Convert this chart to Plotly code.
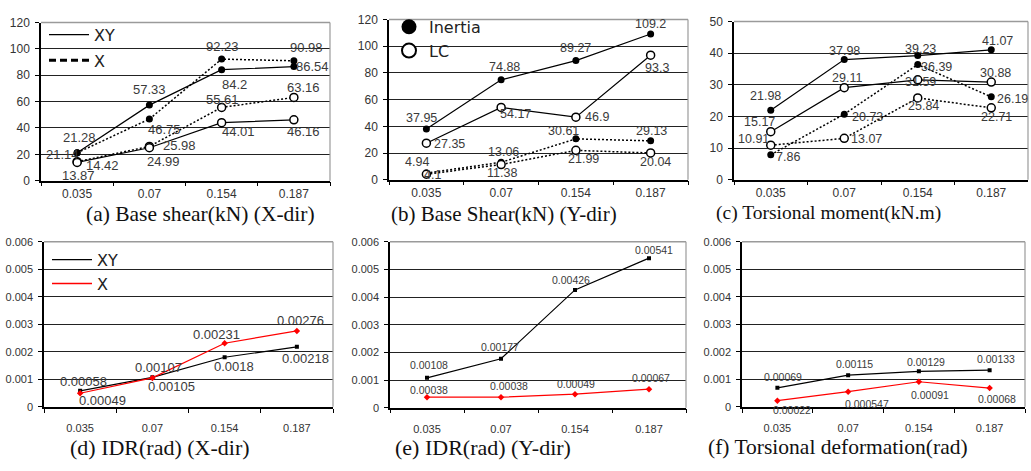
import plotly.graph_objects as go

W, H = 1031, 471

# ---------------- data ----------------
categories = ["0.035", "0.07", "0.154", "0.187"]

# (a) Base shear (kN) X-dir
a_xy_inertia = [21.28, 57.33, 84.2, 86.54]
a_xy_lc = [13.87, 24.99, 44.01, 46.16]
a_x_inertia = [21.14, 46.75, 92.23, 90.98]
a_x_lc = [14.42, 25.98, 55.61, 63.16]

# (b) Base shear (kN) Y-dir
b_xy_inertia = [37.95, 74.88, 89.27, 109.2]
b_xy_lc = [27.35, 54.17, 46.9, 93.3]
b_x_inertia = [4.94, 13.06, 30.61, 29.13]
b_x_lc = [4.1, 11.38, 21.99, 20.04]

# (c) Torsional moment (kN.m)
c_xy_inertia = [21.98, 37.98, 39.23, 41.07]
c_xy_lc = [15.17, 29.11, 31.59, 30.88]
c_x_inertia = [7.86, 20.73, 36.39, 26.19]
c_x_lc = [10.91, 13.07, 25.84, 22.71]

# (d) IDR X-dir, (e) IDR Y-dir, (f) torsional deformation
d_xy = [0.00058, 0.00107, 0.0018, 0.00218]
d_x = [0.00049, 0.00105, 0.00231, 0.00276]
e_xy = [0.00108, 0.00177, 0.00426, 0.00541]
e_x = [0.00038, 0.00038, 0.00049, 0.00067]
f_xy = [0.00069, 0.00115, 0.00129, 0.00133]
f_x = [0.00022, 0.000547, 0.00091, 0.00068]

ticks_shear = [0, 20, 40, 60, 80, 100, 120]
ticks_moment = [0, 10, 20, 30, 40, 50]
ticks_rad = [0, 0.001, 0.002, 0.003, 0.004, 0.005, 0.006]
ticks_rad_text = ["0", "0.001", "0.002", "0.003", "0.004", "0.005", "0.006"]

titles = ["(a) Base shear(kN) (X-dir)", "(b) Base Shear(kN) (Y-dir)",
          "(c) Torsional moment(kN.m)", "(d) IDR(rad) (X-dir)",
          "(e) IDR(rad) (Y-dir)", "(f) Torsional deformation(rad)"]

# ---------------- layout helpers ----------------
def fx(px):
    return px / W

def fy(py):
    return 1 - py / H

# plot area boxes in pixels: (left, right, top, bottom)
boxes = {
    1: (41, 330, 16, 179),
    2: (389, 688, 13, 178),
    3: (734, 1028, 15, 178),
    4: (44, 333, 242, 412),
    5: (390, 686, 242, 413),
    6: (742, 1025, 242, 412),
}

fig = go.Figure()

BLACK = "#000000"
RED = "#ff0000"
LBL = "#3a3a3a"


def ax_names(i):
    return ("x" if i == 1 else f"x{i}"), ("y" if i == 1 else f"y{i}")


def add_line(i, vals, dash, filled, color=BLACK, kind="circle"):
    xr, yr = ax_names(i)
    if kind == "circle":
        if filled:
            marker = dict(symbol="circle", size=7, color=BLACK, line=dict(width=0))
        else:
            marker = dict(symbol="circle", size=8, color="white", line=dict(color=BLACK, width=1.5))
        width = 1.2 if dash == "solid" else 1.5
    elif kind == "square":
        marker = dict(symbol="square", size=4, color=color, line=dict(width=0))
        width = 1.2
    else:
        marker = dict(symbol="diamond", size=5, color=color, line=dict(width=0))
        width = 1.2
    fig.add_trace(go.Scatter(
        x=categories, y=vals, xaxis=xr, yaxis=yr, mode="lines+markers",
        line=dict(color=color, width=width, dash=dash), marker=marker,
        showlegend=False, hoverinfo="skip"))


def add_labels(i, vals, offsets, size):
    xr, yr = ax_names(i)
    for k, (v, (dx, dy)) in enumerate(zip(vals, offsets)):
        # category axis: annotation x given as category index
        fig.add_annotation(x=k, y=v, xref=xr, yref=yr, text=str(v), showarrow=False,
                           xshift=dx, yshift=dy,
                           font=dict(family="Liberation Sans", size=size, color=LBL))


DOT = "2px,2px"

# (a)
add_line(1, a_x_inertia, DOT, True)
add_line(1, a_x_lc, DOT, False)
add_line(1, a_xy_inertia, "solid", True)
add_line(1, a_xy_lc, "solid", False)
add_labels(1, a_xy_inertia, [(2, 15), (0, 16), (13, -15), (19, 0)], 13)
add_labels(1, a_xy_lc, [(1, -13), (14, -14), (17, -9), (10, -12)], 13)
add_labels(1, a_x_inertia, [(-15, -2), (15, -10), (1, 13), (13, 13)], 13)
add_labels(1, a_x_lc, [(25, -4), (30, 1), (1, 8), (10, 10)], 13)

# (b)
add_line(2, b_x_inertia, DOT, True)
add_line(2, b_x_lc, DOT, False)
add_line(2, b_xy_inertia, "solid", True)
add_line(2, b_xy_lc, "solid", False)
add_labels(2, b_xy_inertia, [(-5, 11), (3, 13), (0, 13), (0, 10)], 12.5)
add_labels(2, b_xy_lc, [(23, -1), (14, -7), (21, 0), (6, -13)], 12.5)
add_labels(2, b_x_inertia, [(-9, 11), (2, 10), (-12, 8), (1, 10)], 12.5)
add_labels(2, b_x_lc, [(6, -1), (1, -8), (8, -9), (5, -9)], 12.5)

# (c)
add_line(3, c_x_inertia, DOT, True)
add_line(3, c_x_lc, DOT, False)
add_line(3, c_xy_inertia, "solid", True)
add_line(3, c_xy_lc, "solid", False)
add_labels(3, c_xy_inertia, [(-5, 14), (0, 9), (3, 7), (6, 9)], 12.5)
add_labels(3, c_xy_lc, [(-11, 10), (3, 10), (3, -2), (4, 9)], 12.5)
add_labels(3, c_x_inertia, [(17, -2), (23, -3), (19, -2), (21, -2)], 12.5)
add_labels(3, c_x_lc, [(-17, 6), (22, -1), (6, -8), (5, -9)], 12.5)

# (d)
add_line(4, d_xy, "solid", True, BLACK, "square")
add_line(4, d_x, "solid", True, RED, "diamond")
add_labels(4, d_xy, [(3, 9), (6, 10), (9, -9), (9, -12)], 13)
add_labels(4, d_x, [(22, -7), (19, -9), (-8, 9), (4, 10)], 13)

# (e)
add_line(5, e_xy, "solid", True, BLACK, "square")
add_line(5, e_x, "solid", True, RED, "diamond")
add_labels(5, e_xy, [(2, 13), (-1, 12), (-4, 10), (5, 8)], 10.5)
add_labels(5, e_x, [(2, 7), (8, 11), (1, 10), (2, 11)], 10.5)

# (f)
add_line(6, f_xy, "solid", True, BLACK, "square")
add_line(6, f_x, "solid", True, RED, "diamond")
add_labels(6, f_xy, [(6, 11), (6, 11), (7, 9), (6, 11)], 10.5)
add_labels(6, f_x, [(15, -9), (19, -12), (11, -13), (7, -11)], 10.5)

# ---------------- legends (legend-only traces) ----------------
fig.add_trace(go.Scatter(x=[None], y=[None], mode="lines", name="XY",
                         line=dict(color=BLACK, width=1.3), legend="legend", legendgroup="a1"))
fig.add_trace(go.Scatter(x=[None], y=[None], mode="lines", name="X",
                         line=dict(color=BLACK, width=3, dash="7px,4px"), legend="legend", legendgroup="a2"))
fig.add_trace(go.Scatter(x=[None], y=[None], mode="markers", name="Inertia",
                         marker=dict(symbol="circle", size=15, color=BLACK), legend="legend2", legendgroup="b1"))
fig.add_trace(go.Scatter(x=[None], y=[None], mode="markers", name="LC",
                         marker=dict(symbol="circle", size=14, color="white", line=dict(color=BLACK, width=2)),
                         legend="legend2", legendgroup="b2"))
fig.add_trace(go.Scatter(x=[None], y=[None], mode="lines", name="XY",
                         line=dict(color=BLACK, width=1.3), legend="legend3", legendgroup="d1"))
fig.add_trace(go.Scatter(x=[None], y=[None], mode="lines", name="X",
                         line=dict(color=RED, width=1.3), legend="legend3", legendgroup="d2"))

legfont = dict(family="DejaVu Sans", size=16, color="#222")
layout = dict(
    width=W, height=H, margin=dict(l=0, r=0, t=0, b=0),
    paper_bgcolor="white", plot_bgcolor="white",
    legend=dict(x=fx(44), y=fy(11), xanchor="left", yanchor="top", bgcolor="rgba(0,0,0,0)",
                font=legfont, tracegroupgap=2, itemwidth=40, traceorder="grouped"),
    legend2=dict(x=fx(389), y=fy(3), xanchor="left", yanchor="top", bgcolor="rgba(0,0,0,0)",
                 font=legfont, tracegroupgap=0, itemwidth=30, traceorder="grouped"),
    legend3=dict(x=fx(47), y=fy(243), xanchor="left", yanchor="top", bgcolor="rgba(0,0,0,0)",
                 font=legfont, tracegroupgap=0, itemwidth=40, traceorder="grouped"),
)

yticks = {1: (ticks_shear, [str(t) for t in ticks_shear], [0, 120]),
          2: (ticks_shear, [str(t) for t in ticks_shear], [0, 120]),
          3: (ticks_moment, [str(t) for t in ticks_moment], [0, 50]),
          4: (ticks_rad, ticks_rad_text, [0, 0.006]),
          5: (ticks_rad, ticks_rad_text, [0, 0.006]),
          6: (ticks_rad, ticks_rad_text, [0, 0.006])}

shapes = []
for i, (l, r, t, b) in boxes.items():
    xk = "xaxis" if i == 1 else f"xaxis{i}"
    yk = "yaxis" if i == 1 else f"yaxis{i}"
    xr, yr = ax_names(i)
    tfs = 12 if i <= 3 else 11
    layout[xk] = dict(domain=[fx(l), fx(r)], anchor=yr, type="category",
                      categoryorder="array", categoryarray=categories, range=[-0.5, 3.5],
                      showgrid=False, zeroline=False, showline=True, linecolor=BLACK, linewidth=1.5,
                      ticks="outside", tickson="boundaries", ticklen=4, tickcolor=BLACK,
                      tickfont=dict(family="Liberation Sans", size=tfs, color="#333"),
                      ticklabelstandoff=1 if i <= 3 else 10, fixedrange=True)
    tv, tt, rg = yticks[i]
    layout[yk] = dict(domain=[fy(b), fy(t)], anchor=xr, range=rg, tickvals=tv, ticktext=tt,
                      showgrid=True, gridcolor="#222", gridwidth=1, zeroline=False,
                      showline=True, linecolor=BLACK, linewidth=1.5,
                      ticks="outside", ticklen=4, tickcolor=BLACK,
                      tickfont=dict(family="Liberation Sans", size=tfs, color="#333"),
                      ticklabelstandoff=3, fixedrange=True)
    xdom = f"{xr} domain"
    ydom = f"{yr} domain"
    shapes.append(dict(type="line", xref=xdom, yref=ydom, x0=0, x1=1, y0=1, y1=1,
                       line=dict(color="#9a9a9a", width=1.5), layer="above"))
    shapes.append(dict(type="line", xref=xdom, yref=ydom, x0=1, x1=1, y0=0, y1=1,
                       line=dict(color="#9a9a9a", width=1.2), layer="above"))

layout["shapes"] = shapes
fig.update_layout(**layout)

# titles
title_pos = [(200, 213, 21.5), (504, 213, 21), (828, 212, 19.5),
             (160, 454, 22), (483, 454, 22), (838, 453, 21.5)]
for txt, (cx, cy, fs) in zip(titles, title_pos):
    fig.add_annotation(x=fx(cx), y=fy(cy), xref="paper", yref="paper", text=txt, showarrow=False,
                       xanchor="center", yanchor="middle",
                       font=dict(family="Liberation Serif", size=fs, color="#111"))

fig.write_html("out.html")
